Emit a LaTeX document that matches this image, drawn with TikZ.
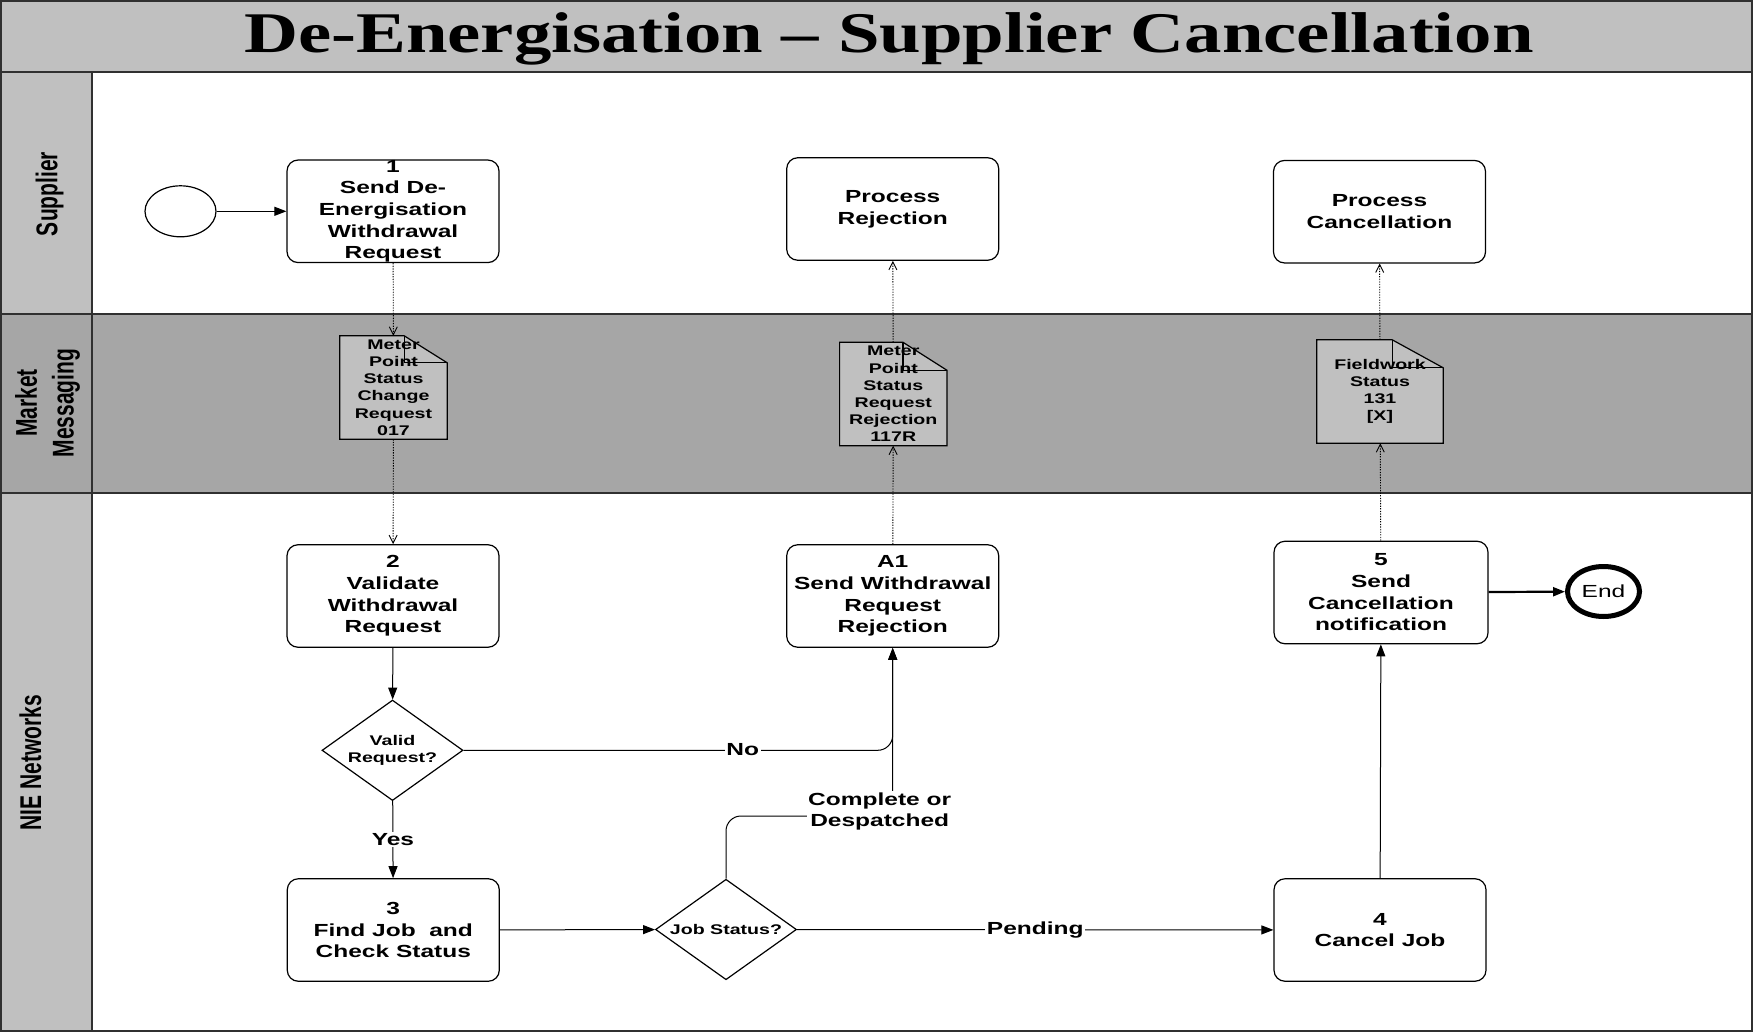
\documentclass[tikz,border=0pt]{standalone}
\usepackage{fontspec}
\newfontfamily\bxf[FakeStretch=1.4]{Liberation Sans}
\newfontfamily\ttlf[FakeStretch=1.3]{Liberation Serif}
\newfontfamily\lnf[FakeStretch=0.7]{Liberation Sans}
\usetikzlibrary{arrows.meta,shapes.geometric,calc}
\definecolor{lanegray}{HTML}{A6A6A6}
\definecolor{cellgray}{HTML}{C0C0C0}
\definecolor{bordergray}{HTML}{303030}
\newcommand\docoutline[3]{%
  \filldraw[docline] (#1.north west) -- ($(#1.north east)+(-#2,0)$) -- ($(#1.north east)+(0,#3)$) -- (#1.south east) -- (#1.south west) -- cycle;
  \draw[docline,fill=none] ($(#1.north east)+(-#2,0)$) |- ($(#1.north east)+(0,#3)$);}
\begin{document}
\begin{tikzpicture}[x=1pt,y=-1pt,
  laneline/.style={draw=bordergray,line width=2pt},
  task/.style={draw,line width=1.2pt,rounded corners=11pt,minimum width=212pt,minimum height=102.5pt,inner sep=0pt,align=center,font=\bxf\bfseries\fontsize{17.5}{21.7}\selectfont,execute at begin node={\rule{0pt}{17pt}}},
  decision/.style={diamond,draw,line width=1.2pt,minimum width=141pt,minimum height=100.5pt,inner sep=0pt,aspect=1.41,align=center,font=\bxf\bfseries\fontsize{14}{17}\selectfont},
  startev/.style={ellipse,draw,line width=1.2pt,minimum width=71pt,minimum height=51pt,inner sep=0pt},
  endev/.style={ellipse,draw,line width=5pt,minimum width=72pt,minimum height=50pt,inner sep=0pt,font=\bxf\fontsize{17.5}{20}\selectfont},
  docbox/.style={rectangle,draw=none,inner sep=0pt},
  docline/.style={draw,line width=1.2pt,fill=cellgray},
  doctext/.style={inner sep=0pt,align=center,font=\bxf\bfseries\fontsize{14}{17.2}\selectfont},
  lanelbl/.style={rotate=90,inner sep=0pt,align=center,font=\lnf\bfseries\fontsize{30}{36.7}\selectfont},
  lbl/.style={fill=white,inner sep=1.5pt,align=center,font=\bxf\bfseries\fontsize{17.5}{21.5}\selectfont},
  flow/.style={line width=1pt,-{Triangle[length=12pt,width=9pt]}},
  msg/.style={line width=0.9pt,dash pattern=on 1.3pt off 1.3pt,-{Straight Barb[length=8pt,width=8pt]}}
]
\useasboundingbox (0,0) rectangle (1753,1032);
% backgrounds
\fill[cellgray] (0,0) rectangle (1753,72);
\fill[white] (92,72) rectangle (1753,1032);
\fill[cellgray] (0,72) rectangle (92,314);
\fill[lanegray] (0,314) rectangle (1753,493);
\fill[cellgray] (0,493) rectangle (92,1032);
\draw[laneline] (1,1) rectangle (1752,1031);
\draw[laneline] (0,72) -- (1753,72);
\draw[laneline] (0,314) -- (1753,314);
\draw[laneline] (0,493) -- (1753,493);
\draw[laneline] (92,72) -- (92,1032);
% title and lane labels
\node[anchor=base,inner sep=0pt,font=\ttlf\bfseries\fontsize{57.5}{60}\selectfont] (title) at (889,53) {De-Energisation – Supplier Cancellation};
\node[lanelbl] (lsup) at (49.5,194) {Supplier};
\node[lanelbl] (lmm) at (47.5,403) {Market\\Messaging};
\node[lanelbl] (lnie) at (30.5,762.5) {NIE Networks};
% supplier lane
\node[startev] (start) at (180.5,211.3) {};
\node[task] (t1) at (393,211.3) {1\\Send De-\\Energisation\\Withdrawal\\Request};
\node[task] (prej) at (892.7,209) {Process\\Rejection};
\node[task] (pcanc) at (1379.5,211.7) {Process\\Cancellation};
% market messaging lane
\node[docbox,minimum width=107pt,minimum height=103pt] (m017) at (393.5,387.5) {};
\docoutline{m017}{43}{27}
\node[doctext] (m017t) at (m017) {Meter\\Point\\Status\\Change\\Request\\017};
\node[docbox,minimum width=107pt,minimum height=103pt] (m117) at (893.3,394) {};
\docoutline{m117}{44}{28}
\node[doctext] (m117t) at (m117) {Meter\\Point\\Status\\Request\\Rejection\\117R};
\node[docbox,minimum width=126pt,minimum height=103pt] (m131) at (1380,391.5) {};
\docoutline{m131}{51}{28}
\node[doctext] (m131t) at (m131) {Fieldwork\\Status\\131\\{[X]}};
% NIE lane
\node[task] (t2) at (393,596) {2\\Validate\\Withdrawal\\Request};
\node[task] (ta1) at (892.7,596) {A1\\Send Withdrawal\\Request\\Rejection};
\node[task,minimum width=214pt] (t5) at (1381,592.5) {5\\Send\\Cancellation\\notification};
\node[endev] (end) at (1603.5,591.5) {End};
\node[decision] (valid) at (392.5,750.3) {Valid\\Request?};
\node[task] (t3) at (393.3,930) {3\\Find Job~ and\\Check Status};
\node[decision] (job) at (726,929.5) {Job Status?};
\node[task] (t4) at (1380,930) {4\\Cancel Job};
\coordinate (cj) at (892.7,816);
% connectors
\draw[flow] (start) -- (t1);
\draw[msg] (t1) -- (m017);
\draw[msg] (m017) -- (t2);
\draw[flow] (t2) -- (valid);
\draw[flow] (valid) -- node[lbl] (lyes) {Yes} (t3);
\draw[flow,rounded corners=15pt] (valid.east) -| (ta1.south);
\draw[flow,rounded corners=15pt] (job.north) |- (cj) -- (ta1.south);
\draw[flow] (t3) -- (job);
\draw[flow] (job) -- node[lbl] (lpend) {Pending} (t4);
\draw[flow] (t4) -- (t5);
\draw[msg] (t5) -- (m131);
\draw[msg] (m131) -- (pcanc);
\draw[msg] (ta1) -- (m117);
\draw[msg] (m117) -- (prej);
\draw[flow,line width=2.2pt] (t5) -- (end);
\node[lbl] (lno) at (742.8,750) {No};
\node[lbl] (lcd) at (879.7,811.5) {Complete or\\Despatched};
\end{tikzpicture}
\end{document}
